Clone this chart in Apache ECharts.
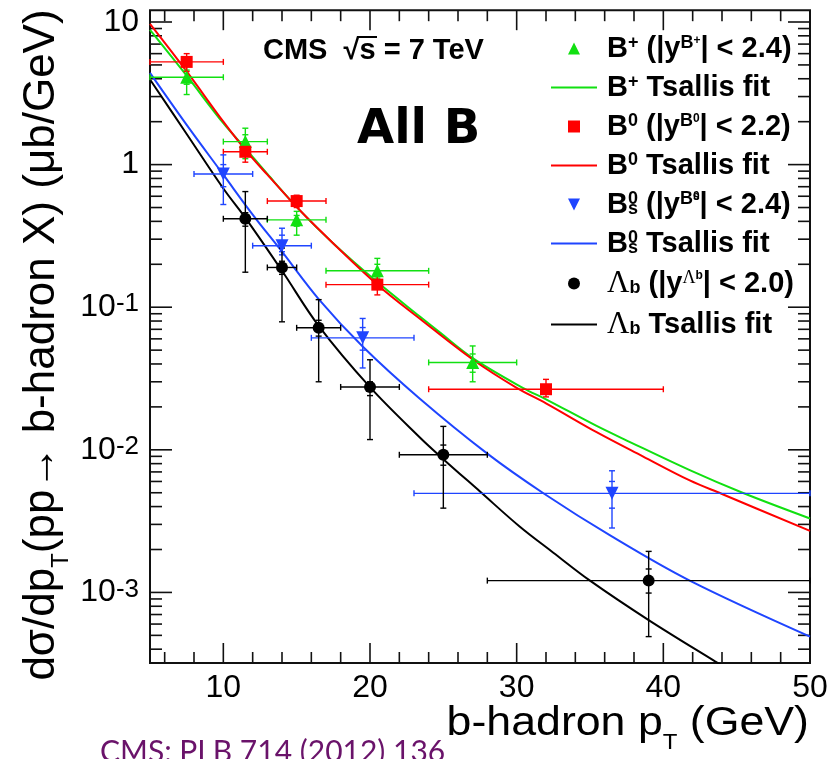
<!DOCTYPE html>
<html>
<head>
<meta charset="utf-8">
<title>CMS b-hadron pT spectra</title>
<script src="https://cdn.jsdelivr.net/npm/echarts@6.0.0/dist/echarts.min.js"></script>
<style>
html, body { margin: 0; padding: 0; background: #fff; }
#main { width: 837px; height: 759px; }
</style>
</head>
<body>
<div id="main"></div>
<script>
// axis range
const X_MIN = 5, X_MAX = 50;
const Y_MIN = 3.2e-4, Y_MAX = 12.1;

// tick positions
const xMajor = [10, 20, 30, 40];
const xMinor = [6, 8, 12, 14, 16, 18, 22, 24, 26, 28, 32, 34, 36, 38, 42, 44, 46, 48];
const yMajor = [1e-3, 1e-2, 1e-1, 1, 10];
const yMantissa = [2, 3, 4, 5, 6, 7, 8, 9];
const yDecades = [1e-4, 1e-3, 1e-2, 1e-1, 1];

// B+ points
const bpX = [7.5, 11.5, 15, 20.5, 27];
const bpXLo = [5, 10, 13, 17, 24];
const bpXHi = [10, 13, 17, 24, 30];
const bpY = [4.1, 1.45, 0.41, 0.18, 0.041];
const bpYLo = [3.1, 1.1, 0.32, 0.14, 0.030];
const bpYHi = [5.1, 1.8, 0.47, 0.22, 0.0535];
const bpStatLo = [3.66, 1.28, 0.37, 0.16, 0.035];
const bpStatHi = [4.6, 1.62, 0.44, 0.2, 0.047];

// B0 points
const b0X = [7.5, 11.5, 15, 20.5, 32];
const b0XLo = [5, 10, 13, 17, 24];
const b0XHi = [10, 13, 17, 24, 40];
const b0Y = [5.25, 1.23, 0.555, 0.144, 0.0266];
const b0YLo = [4.5, 1.04, 0.50, 0.122, 0.0235];
const b0YHi = [6.0, 1.42, 0.61, 0.165, 0.0312];

// Bs points
const bsX = [10, 14, 19.5, 36.5];
const bsXLo = [8, 12, 16, 23];
const bsXHi = [12, 16, 23, 50];
const bsY = [0.86, 0.27, 0.061, 0.00495];
const bsYLo = [0.525, 0.233, 0.0375, 0.00283];
const bsYHi = [1.17, 0.358, 0.0834, 0.00713];
const bsStatLo = [0.70, 0.245, 0.05, 0.0039];
const bsStatHi = [1.0, 0.32, 0.072, 0.006];

// Lambda_b points
const lbX = [11.5, 14, 16.5, 20, 25, 39];
const lbXLo = [10, 13, 15, 18, 22, 28];
const lbXHi = [13, 15, 18, 22, 28, 50];
const lbY = [0.417, 0.19, 0.0717, 0.0276, 0.00923, 0.00121];
const lbYLo = [0.176, 0.079, 0.030, 0.0118, 0.0039, 0.00049];
const lbYHi = [0.647, 0.26, 0.113, 0.0428, 0.0146, 0.00194];
const lbStatLo = [0.37, 0.17, 0.0627, 0.024, 0.0078, 0.00099];
const lbStatHi = [0.46, 0.21, 0.081, 0.03, 0.0108, 0.00146];

// Tsallis fit curves
const bpFitX = [5, 7.5, 10, 11.5, 13, 15.2, 17.5, 20.5, 23.4, 24.65, 27, 30.45, 32, 35.45, 37.3, 41.8, 45.4, 50];
const bpFitY = [8.8, 4.2, 1.95, 1.3, 0.86, 0.48, 0.28, 0.15, 0.086, 0.068, 0.044, 0.0271, 0.0226, 0.0147, 0.0119, 0.0072, 0.0050, 0.0033];
const b0FitX = [5, 7.5, 10, 11.5, 13, 15.2, 17.5, 20.5, 23.4, 27, 30, 32, 35.45, 38.6, 41.8, 44, 50];
const b0FitY = [9.7, 4.5, 2.0, 1.27, 0.85, 0.48, 0.28, 0.144, 0.083, 0.043, 0.0272, 0.0212, 0.0133, 0.0090, 0.0061, 0.0049, 0.0027];
const bsFitX = [5, 7.5, 10, 12, 14, 16.5, 19.5, 23.4, 28, 31.9, 36.4, 41.8, 50];
const bsFitY = [4.4, 1.9, 0.85, 0.446, 0.245, 0.114, 0.053, 0.0228, 0.0094, 0.0049, 0.0025, 0.00121, 0.00049];
const lbFitX = [5, 7.5, 10, 11.6, 14, 16.5, 20, 23.4, 25, 27.5, 30.2, 32.5, 35, 39, 43.5, 46];
const lbFitY = [3.95, 1.64, 0.68, 0.41, 0.18, 0.074, 0.0275, 0.0122, 0.0086, 0.0051, 0.0029, 0.0019, 0.00121, 0.00064, 0.00033, 0.00023];

const GREEN = '#11e011', RED = '#ff0000', BLUE = '#1f45ff', BLACK = '#000000';
const LINE_ICON = 'path://M0,0H46V2.2H0Z';
const TRI_UP = 'path://M0,12L6,0L12,12Z';
const TRI_DOWN = 'path://M0,0L12,0L6,12Z';
const SQUARE = 'path://M0,0H11V11H0Z';

const chart = echarts.init(document.getElementById('main'));

function zip (xs, ys) {
  return xs.map((x, i) => [x, ys[i]]);
}

// tick marks on all four frame sides: [x, y, side, length]
const yMinor = [];
yDecades.forEach(d => yMantissa.forEach(m => {
  const v = m * d;
  if (v > Y_MIN && v < Y_MAX) yMinor.push(v);
}));
const tickData = [];
yMajor.forEach(v => { tickData.push([X_MIN, v, 0, 22]); tickData.push([X_MAX, v, 1, 22]); });
yMinor.forEach(v => { tickData.push([X_MIN, v, 0, 12]); tickData.push([X_MAX, v, 1, 12]); });
xMajor.forEach(v => { tickData.push([v, Y_MIN, 2, 20]); tickData.push([v, Y_MAX, 3, 20]); });
xMinor.forEach(v => { tickData.push([v, Y_MIN, 2, 11]); tickData.push([v, Y_MAX, 3, 11]); });

const tickSeries = {
  type: 'custom',
  data: tickData,
  encode: { x: 0, y: 1 },
  renderItem: function (params, api) {
    const p = api.coord([api.value(0), api.value(1)]);
    const side = api.value(2), len = api.value(3);
    let x2 = p[0], y2 = p[1];
    if (side === 0) x2 = p[0] + len;
    else if (side === 1) x2 = p[0] - len;
    else if (side === 2) y2 = p[1] - len;
    else y2 = p[1] + len;
    return {
      type: 'line',
      shape: { x1: p[0], y1: p[1], x2: x2, y2: y2 },
      style: { stroke: '#111111', lineWidth: 1.6 }
    };
  }
};

function errorBars (color, x, xLo, xHi, y, yLo, yHi, sLo, sHi) {
  return {
    type: 'custom',
    silent: true,
    z: 3,
    data: x.map((v, i) => [v, y[i], xLo[i], xHi[i], yLo[i], yHi[i],
      sLo ? sLo[i] : NaN, sHi ? sHi[i] : NaN]),
    encode: { x: 0, y: 1 },
    renderItem: function (params, api) {
      const c = api.coord([api.value(0), api.value(1)]);
      const l = api.coord([api.value(2), api.value(1)]);
      const r = api.coord([api.value(3), api.value(1)]);
      const lo = api.coord([api.value(0), api.value(4)]);
      const hi = api.coord([api.value(0), api.value(5)]);
      const cap = 3;
      const style = { stroke: color, lineWidth: 1.4 };
      const seg = (x1, y1, x2, y2) => ({ type: 'line', shape: { x1, y1, x2, y2 }, style });
      const kids = [
        seg(l[0], c[1], r[0], c[1]),
        seg(l[0], c[1] - cap, l[0], c[1] + cap),
        seg(r[0], c[1] - cap, r[0], c[1] + cap),
        seg(c[0], lo[1], c[0], hi[1]),
        seg(c[0] - cap, lo[1], c[0] + cap, lo[1]),
        seg(c[0] - cap, hi[1], c[0] + cap, hi[1])
      ];
      const s1 = api.value(6), s2 = api.value(7);
      if (!isNaN(s1)) {
        const a = api.coord([api.value(0), s1]);
        kids.push(seg(c[0] - cap, a[1], c[0] + cap, a[1]));
      }
      if (!isNaN(s2)) {
        const b = api.coord([api.value(0), s2]);
        kids.push(seg(c[0] - cap, b[1], c[0] + cap, b[1]));
      }
      return { type: 'group', children: kids };
    }
  };
}

function fitLine (name, color, xs, ys) {
  return {
    name: name,
    type: 'line',
    data: zip(xs, ys),
    smooth: 0.35,
    symbol: 'none',
    showSymbol: false,
    silent: true,
    z: 2,
    lineStyle: { color: color, width: 2 },
    itemStyle: { color: color }
  };
}

function markers (name, color, symbol, size, rotate, xs, ys) {
  return {
    name: name,
    type: 'scatter',
    data: zip(xs, ys),
    symbol: symbol,
    symbolSize: size,
    symbolRotate: rotate,
    silent: true,
    z: 4,
    itemStyle: { color: color, opacity: 1 }
  };
}

const legendText = {
  'Bp': '{m0|B}{sp|+}{m| (|y}{sp|B}{ssp|+}{m|| < 2.4)}',
  'Bp fit': '{m0|B}{sp|+}{m| Tsallis fit}',
  'B0': '{m0|B}{sp|0}{m| (|y}{sp|B}{ssp|0}{m|| < 2.2)}',
  'B0 fit': '{m0|B}{sp|0}{m| Tsallis fit}',
  'Bs': '{m0|B}{spz|0}{sb|s}{m| (|y}{sp|B}{sspz|0}{ssb|s}{m|| < 2.4)}',
  'Bs fit': '{m0|B}{spz|0}{sb|s}{m| Tsallis fit}',
  'Lb': '{g0|Λ}{sb|b}{m| (|y}{gsp|Λ}{ssb|b}{m|| < 2.0)}',
  'Lb fit': '{g0|Λ}{sb|b}{m| Tsallis fit}'
};

const SANS = 'Liberation Sans';
const legRich = {
  m: { fontFamily: SANS, fontWeight: 'bold', fontSize: 29, lineHeight: 28, padding: [5, 0, 5, 0], color: '#000' },
  m0: { fontFamily: SANS, fontWeight: 'bold', fontSize: 29, lineHeight: 28, padding: [5, 0, 5, 5], color: '#000' },
  g0: { fontFamily: 'Liberation Serif', fontSize: 31, lineHeight: 28, padding: [5, 0, 5, 5], color: '#000' },
  sp: { fontFamily: SANS, fontWeight: 'bold', fontSize: 18, lineHeight: 18, verticalAlign: 'top', color: '#000' },
  spz: { fontFamily: SANS, fontWeight: 'bold', fontSize: 18, lineHeight: 18, verticalAlign: 'top', width: 0, color: '#000' },
  sb: { fontFamily: SANS, fontWeight: 'bold', fontSize: 18, lineHeight: 18, verticalAlign: 'bottom', color: '#000' },
  ssp: { fontFamily: SANS, fontWeight: 'bold', fontSize: 12, lineHeight: 10, verticalAlign: 'top', color: '#000' },
  sspz: { fontFamily: SANS, fontWeight: 'bold', fontSize: 12, lineHeight: 10, verticalAlign: 'top', width: 0, color: '#000' },
  ssb: { fontFamily: SANS, fontWeight: 'bold', fontSize: 12, lineHeight: 28, verticalAlign: 'top', color: '#000' },
  gsp: { fontFamily: 'Liberation Serif', fontSize: 18, lineHeight: 18, verticalAlign: 'top', color: '#000' }
};

function yLabel (v) {
  const k = Math.log10(v);
  const r = Math.round(k);
  if (Math.abs(k - r) > 1e-6) return '';
  if (r === 1) return '{b|10}';
  if (r === 0) return '{b|1}';
  return '{b|10}{s|' + r + '}';
}

chart.setOption({
  animation: false,
  backgroundColor: '#fff',
  grid: {
    left: 150, right: 27, top: 7, bottom: 96,
    show: true, borderColor: '#111', borderWidth: 2
  },
  xAxis: {
    type: 'value', min: X_MIN, max: X_MAX, interval: 5,
    axisLine: { show: false }, axisTick: { show: false }, splitLine: { show: false },
    axisLabel: {
      margin: 9, color: '#000', fontFamily: SANS, fontSize: 32,
      formatter: v => (v % 10 === 0 ? String(v) : '')
    }
  },
  yAxis: {
    type: 'log', logBase: 10, min: Y_MIN, max: Y_MAX,
    axisLine: { show: false }, axisTick: { show: false }, splitLine: { show: false },
    axisLabel: {
      margin: 11, color: '#000',
      formatter: yLabel,
      rich: {
        b: { fontFamily: SANS, fontSize: 32, lineHeight: 32, padding: [6, 0, 0, 0], verticalAlign: 'bottom', color: '#000' },
        s: { fontFamily: SANS, fontSize: 26, lineHeight: 30, verticalAlign: 'top', color: '#000' }
      }
    }
  },
  legend: {
    orient: 'vertical', left: 551, top: 29, padding: 0, itemGap: 0,
    itemWidth: 46, itemHeight: 12, selectedMode: false, symbolKeepAspect: true,
    data: [
      { name: 'Bp', icon: TRI_UP },
      { name: 'Bp fit', icon: LINE_ICON, itemStyle: { color: GREEN, borderWidth: 0 } },
      { name: 'B0', icon: SQUARE },
      { name: 'B0 fit', icon: LINE_ICON, itemStyle: { color: RED, borderWidth: 0 } },
      { name: 'Bs', icon: TRI_DOWN },
      { name: 'Bs fit', icon: LINE_ICON, itemStyle: { color: BLUE, borderWidth: 0 } },
      { name: 'Lb', icon: 'circle' },
      { name: 'Lb fit', icon: LINE_ICON, itemStyle: { color: BLACK, borderWidth: 0 } }
    ],
    formatter: n => legendText[n],
    textStyle: { color: '#000', rich: legRich }
  },
  graphic: [
    {
      type: 'text', x: 263, y: 36, silent: true,
      style: { text: 'CMS  √s = 7 TeV', fontFamily: SANS, fontWeight: 'bold', fontSize: 29, fill: '#000', verticalAlign: 'top' }
    },
    {
      type: 'line', silent: true,
      shape: { x1: 357, y1: 37, x2: 377, y2: 37 },
      style: { stroke: '#000', lineWidth: 2 }
    },
    {
      type: 'text', x: 357, y: 107, silent: true,
      style: { text: 'All B', fontFamily: 'DejaVu Sans', fontWeight: 'bold', fontSize: 48, fill: '#000', verticalAlign: 'top' }
    },
    {
      type: 'text', x: 809, y: 714, scaleX: 1.09, silent: true,
      style: {
        text: '{t|b-hadron p}{ts|T}{t| (GeV)}', align: 'right', verticalAlign: 'top',
        rich: {
          t: { fontFamily: SANS, fontSize: 41, lineHeight: 40, padding: [0, 0, 20, 0], color: '#000' },
          ts: { fontFamily: SANS, fontSize: 22, lineHeight: 22, verticalAlign: 'bottom', color: '#000' }
        }
      }
    },
    {
      type: 'text', x: 52, y: 345, rotation: Math.PI / 2, silent: true,
      style: {
        text: '{t|dσ/dp}{ts|T}{t|(pp→ b-hadron X) (μb/GeV)}', align: 'center', verticalAlign: 'middle',
        rich: {
          t: { fontFamily: SANS, fontSize: 44, lineHeight: 43, padding: [0, 0, 20, 0], color: '#000' },
          ts: { fontFamily: SANS, fontSize: 24, lineHeight: 24, verticalAlign: 'bottom', color: '#000' }
        }
      }
    },
    {
      type: 'text', x: 100, y: 737, silent: true,
      style: { text: 'CMS: PLB 714 (2012) 136', fontFamily: 'Lato', fontSize: 30, fill: '#6a136a', verticalAlign: 'top' }
    }
  ],
  series: [
    tickSeries,
    fitLine('Bp fit', GREEN, bpFitX, bpFitY),
    fitLine('B0 fit', RED, b0FitX, b0FitY),
    fitLine('Bs fit', BLUE, bsFitX, bsFitY),
    fitLine('Lb fit', BLACK, lbFitX, lbFitY),
    errorBars(GREEN, bpX, bpXLo, bpXHi, bpY, bpYLo, bpYHi, bpStatLo, bpStatHi),
    errorBars(RED, b0X, b0XLo, b0XHi, b0Y, b0YLo, b0YHi, null, null),
    errorBars(BLUE, bsX, bsXLo, bsXHi, bsY, bsYLo, bsYHi, bsStatLo, bsStatHi),
    errorBars(BLACK, lbX, lbXLo, lbXHi, lbY, lbYLo, lbYHi, lbStatLo, lbStatHi),
    markers('Bp', GREEN, 'triangle', 13, 0, bpX, bpY),
    markers('B0', RED, 'rect', 12, 0, b0X, b0Y),
    markers('Bs', BLUE, 'triangle', 13, 180, bsX, bsY),
    markers('Lb', BLACK, 'circle', 12, 0, lbX, lbY)
  ]
});
</script>
</body>
</html>
